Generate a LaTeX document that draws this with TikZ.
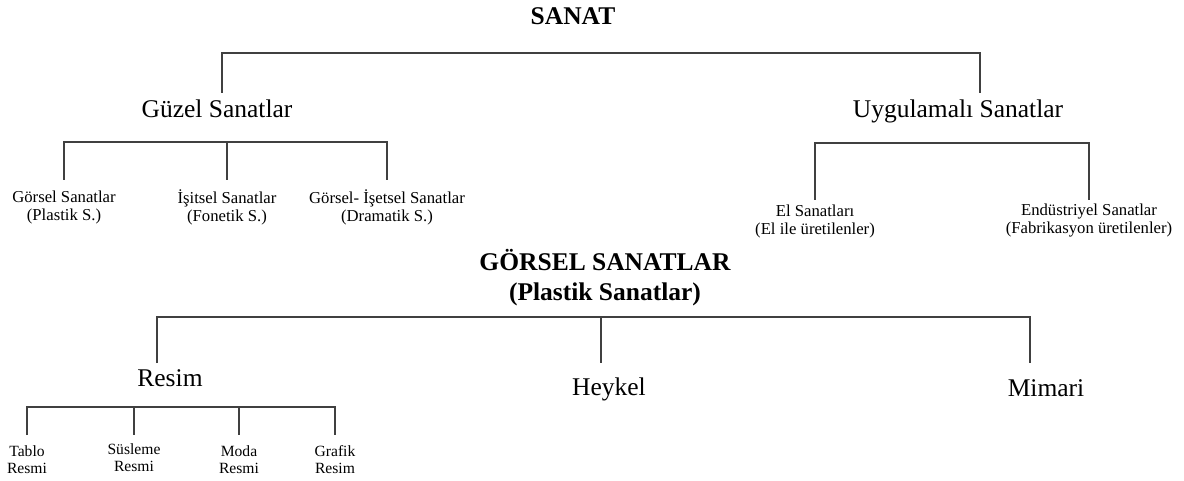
\documentclass[tikz,border=0pt]{standalone}
\usepackage{fontspec}
\setmainfont{Liberation Serif}
\usetikzlibrary{calc}
\tikzset{
baslik node/.style={font=\fontsize{25.5}{30}\selectfont\bfseries,align=center,inner sep=0pt},
ana node/.style={font=\fontsize{25.5}{30}\selectfont,inner sep=0pt,anchor=base},
alt node/.style={font=\fontsize{16.7}{18}\selectfont,align=center,inner sep=0pt},
yaprak node/.style={font=\fontsize{15.6}{17}\selectfont,align=center,inner sep=0pt},
dal/.style={line width=1.5pt,black!75}}

\begin{document}
\begin{tikzpicture}[x=1pt,y=-1pt]
      \useasboundingbox (0,0) rectangle (1184,481);

      % SANAT
      \node[baslik node] (sanat) at (573,16) {SANAT};
      \node[ana node] (guzel) at (217,118) {Güzel Sanatlar};
      \node[ana node] (uyg) at (958,118) {Uygulamalı Sanatlar};

      \node[alt node] (gorsel) at (64,207) {Görsel Sanatlar\\(Plastik S.)};
      \node[alt node] (isitsel) at (227,207) {İşitsel Sanatlar\\(Fonetik S.)};
      \node[alt node] (dramatik) at (387,207) {Görsel- İşetsel Sanatlar\\(Dramatik S.)};
      \node[alt node] (el) at (815,221) {El Sanatları\\(El ile üretilenler)};
      \node[alt node] (endustri) at (1089,221) {Endüstriyel Sanatlar\\(Fabrikasyon üretilenler)};

      \coordinate (s1) at (222,53);
      \coordinate (s2) at (980,53);
      \coordinate (s3) at (0,93);
      \draw[dal] (s1 |- s3) -- (s1) -- (s2) -- (s2 |- s3);

      \coordinate (g1) at (0,142);
      \coordinate (g2) at (0,180);
      \draw[dal] (gorsel |- g2) |- (dramatik |- g1) -- (dramatik |- g2);
      \draw[dal] (isitsel |- g1) -- (isitsel |- g2);

      \coordinate (u1) at (0,143);
      \coordinate (u2) at (0,200);
      \draw[dal] (el |- u2) |- (endustri |- u1) -- (endustri |- u2);

      % GORSEL SANATLAR
      \node[baslik node] (plastik) at (605,278) {GÖRSEL SANATLAR\\(Plastik Sanatlar)};
      \node[ana node] (resim) at (170,386) {Resim};
      \node[ana node] (heykel) at (609,395) {Heykel};
      \node[ana node] (mimari) at (1046,396) {Mimari};

      \coordinate (p1) at (157,317);
      \coordinate (p2) at (601,317);
      \coordinate (p3) at (1030,317);
      \coordinate (p4) at (0,363);
      \draw[dal] (p1 |- p4) -- (p1) -- (p3) -- (p3 |- p4);
      \draw[dal] (p2) -- (p2 |- p4);

      \node[yaprak node] (tablo) at (27,460) {Tablo\\Resmi};
      \node[yaprak node] (susleme) at (134,458) {Süsleme\\Resmi};
      \node[yaprak node] (moda) at (239,460) {Moda\\Resmi};
      \node[yaprak node] (grafik) at (335,460) {Grafik\\Resim};

      \coordinate (r1) at (0,407);
      \coordinate (r2) at (0,435);
      \draw[dal] (tablo |- r2) |- (grafik |- r1) -- (grafik |- r2);
      \draw[dal] (susleme |- r1) -- (susleme |- r2) (moda |- r1) -- (moda |- r2);
\end{tikzpicture}
\end{document}
